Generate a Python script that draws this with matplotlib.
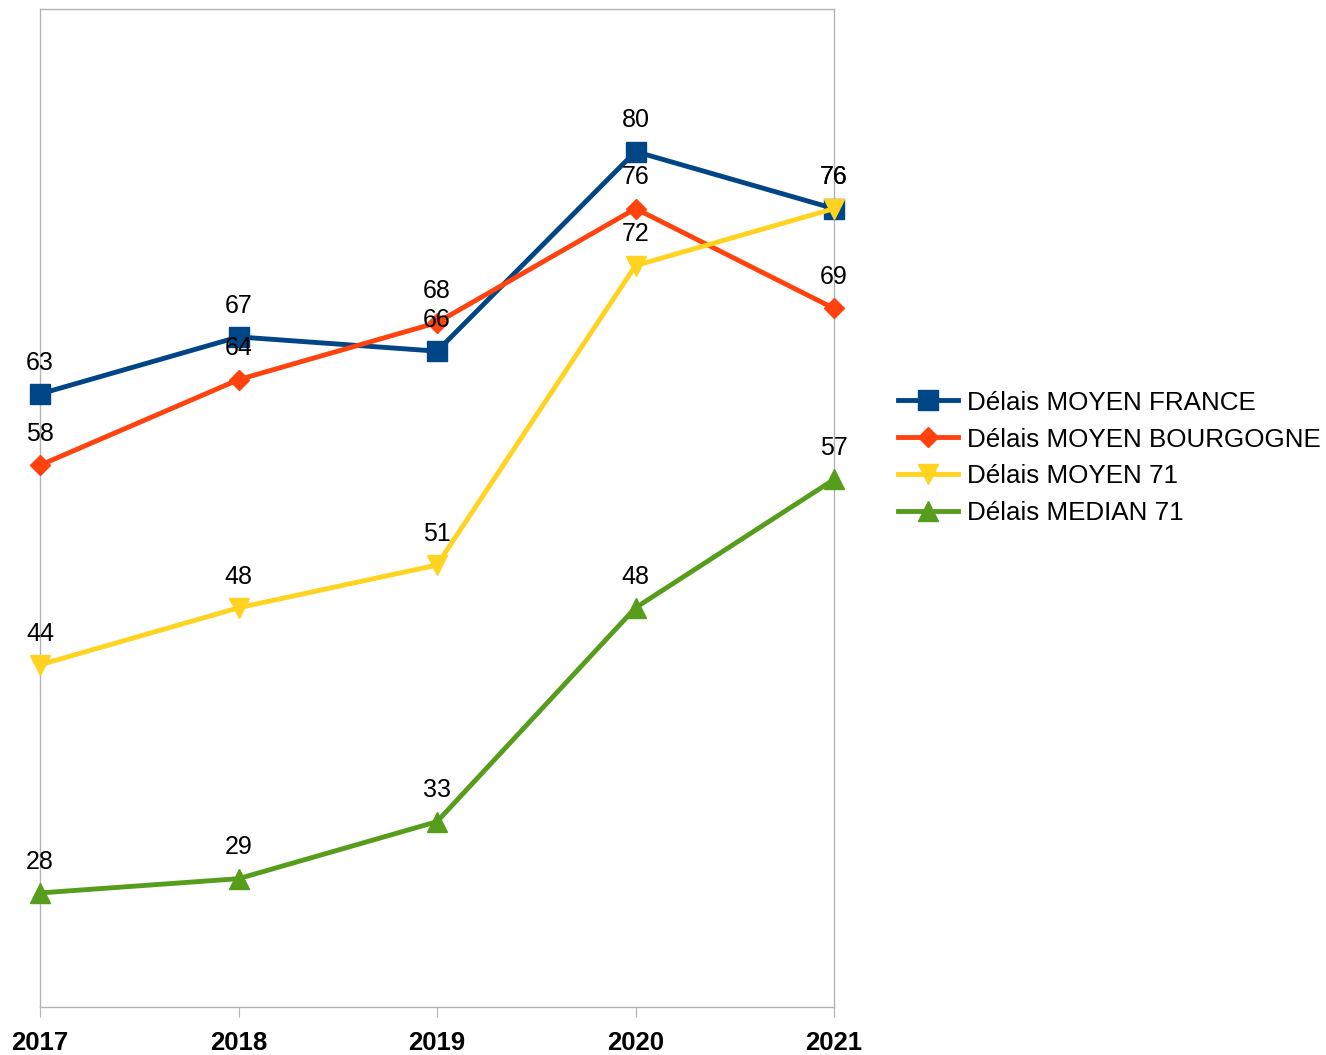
import matplotlib.pyplot as plt

plt.rcParams['font.family'] = ['Liberation Sans', 'DejaVu Sans']

years = ['2017', '2018', '2019', '2020', '2021']
france = [63, 67, 66, 80, 76]
bourgogne = [58, 64, 68, 76, 69]
moyen_71 = [44, 48, 51, 72, 76]
median_71 = [28, 29, 33, 48, 57]

series = [
    ('Délais MOYEN FRANCE', france, '#004586', 's', 14),
    ('Délais MOYEN BOURGOGNE', bourgogne, '#ff420e', 'D', 10),
    ('Délais MOYEN 71', moyen_71, '#ffd320', 'v', 14),
    ('Délais MEDIAN 71', median_71, '#579d1c', '^', 14),
]

fig = plt.figure(figsize=(13.26, 10.55), dpi=100)
ax = fig.add_axes([40 / 1326, 48 / 1055, 794 / 1326, 998 / 1055])

x = list(range(len(years)))
for name, vals, color, marker, ms in series:
    ax.plot(x, vals, color=color, lw=3.5, marker=marker, ms=ms, label=name,
            zorder=3, clip_on=False)

# data labels above points
for name, vals, color, marker, ms in series:
    for xi, v in zip(x, vals):
        ax.annotate(str(v), (xi, v), xytext=(0, 22.5), textcoords='offset points',
                    ha='center', va='center', fontsize=18, color='black', zorder=4)

ax.set_xlim(0, 4)
ax.set_ylim(20, 90)
ax.set_xticks(x)
ax.set_xticklabels(years, fontsize=18.5, fontweight='bold')
ax.set_yticks([])
for s in ax.spines.values():
    s.set_color('#b3b3b3')
    s.set_linewidth(1)
ax.tick_params(axis='x', length=7, color='#b3b3b3', pad=10)

fig.legend(loc='center left', bbox_to_anchor=(875 / 1326, 1 - 458 / 1055), frameon=False,
           fontsize=18.7, handlelength=2.3, labelspacing=0.5, handletextpad=0.35)

fig.savefig('out.png', dpi=100)
